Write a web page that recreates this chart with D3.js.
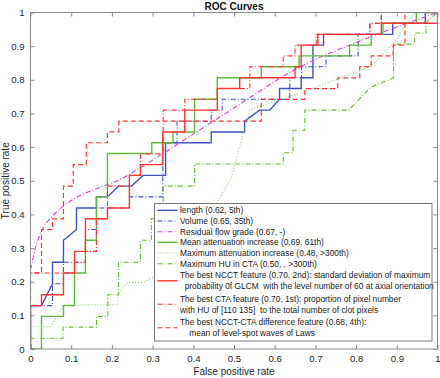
<!DOCTYPE html>
<html><head><meta charset="utf-8">
<script src="https://cdn.jsdelivr.net/npm/d3@7"></script>
<style>body{margin:0;background:#fff}svg{display:block;font-family:"Liberation Sans",Arial,sans-serif}</style>
</head><body><svg id="c" width="440" height="378"></svg>
<script>
// ---- data (FPR, TPR) ----
const lengthROC = [[0,0],[0,0.129],[0.027,0.129],[0.054,0.194],[0.054,0.258],[0.081,0.258],[0.081,0.323],[0.113,0.355],[0.113,0.419],[0.162,0.419],[0.162,0.452],[0.189,0.452],[0.216,0.484],[0.248,0.484],[0.277,0.516],[0.332,0.516],[0.332,0.613],[0.444,0.613],[0.444,0.645],[0.526,0.645],[0.526,0.677],[0.563,0.71],[0.588,0.71],[0.612,0.742],[0.612,0.774],[0.665,0.774],[0.665,0.806],[0.694,0.806],[0.694,0.903],[0.72,0.903],[0.72,0.935],[0.89,0.935],[0.89,0.968],[0.97,0.968],[0.97,1],[1,1]];
const volumeROC = [[0,0],[0,0.129],[0.054,0.129],[0.054,0.194],[0.081,0.194],[0.081,0.258],[0.135,0.258],[0.135,0.355],[0.162,0.355],[0.162,0.419],[0.243,0.419],[0.243,0.452],[0.325,0.452],[0.325,0.613],[0.36,0.613],[0.36,0.677],[0.444,0.677],[0.444,0.71],[0.471,0.71],[0.471,0.742],[0.637,0.742],[0.637,0.806],[0.666,0.806],[0.666,0.839],[0.726,0.839],[0.726,0.871],[0.805,0.871],[0.805,0.935],[0.834,0.935],[0.834,0.968],[0.862,0.968],[0.862,1],[1,1]];
const residualROC = [[0,0.235],[0.012,0.3],[0.027,0.35],[0.05,0.39],[0.24,0.517],[0.466,0.69],[0.665,0.84],[0.83,0.925],[1,1]];
const meanAttROC = [[0,0],[0.027,0],[0.027,0.097],[0.081,0.097],[0.081,0.129],[0.108,0.129],[0.108,0.226],[0.135,0.226],[0.135,0.323],[0.162,0.323],[0.162,0.452],[0.189,0.452],[0.189,0.581],[0.298,0.581],[0.298,0.613],[0.35,0.613],[0.35,0.645],[0.403,0.645],[0.403,0.742],[0.459,0.742],[0.459,0.806],[0.567,0.806],[0.567,0.839],[0.66,0.839],[0.66,0.871],[0.784,0.871],[0.784,0.903],[0.837,0.903],[0.837,0.935],[0.866,0.935],[0.866,0.968],[0.948,0.968],[0.948,1],[1,1]];
const maxAttROC = [[0,0],[0,0.066],[0.05,0.066],[0.08,0.131],[0.215,0.131],[0.215,0.166],[0.24,0.198],[0.276,0.198],[0.305,0.215],[0.35,0.26],[0.46,0.438],[0.493,0.508],[0.539,0.711],[0.66,0.76],[0.837,0.84],[0.895,0.914],[0.944,1],[1,1]];
const maxHUROC = [[0,0],[0,0.032],[0.08,0.032],[0.08,0.065],[0.162,0.065],[0.162,0.097],[0.19,0.097],[0.19,0.161],[0.216,0.161],[0.216,0.258],[0.27,0.258],[0.27,0.323],[0.297,0.323],[0.297,0.387],[0.326,0.387],[0.326,0.484],[0.403,0.484],[0.403,0.55],[0.621,0.55],[0.621,0.583],[0.645,0.583],[0.645,0.65],[0.674,0.65],[0.674,0.71],[0.782,0.71],[0.836,0.778],[0.892,0.806],[0.892,0.906],[0.944,0.906],[0.944,0.939],[0.972,0.939],[0.972,0.97],[1,1]];
const ncctROC = [[0,0],[0,0.129],[0.027,0.129],[0.027,0.161],[0.081,0.161],[0.081,0.226],[0.108,0.226],[0.108,0.29],[0.135,0.29],[0.135,0.387],[0.189,0.387],[0.189,0.419],[0.243,0.419],[0.243,0.516],[0.27,0.516],[0.27,0.548],[0.325,0.548],[0.325,0.645],[0.379,0.645],[0.379,0.71],[0.459,0.71],[0.459,0.774],[0.514,0.774],[0.514,0.806],[0.65,0.806],[0.65,0.839],[0.665,0.839],[0.665,0.903],[0.706,0.903],[0.706,0.935],[0.862,0.935],[0.862,0.968],[1,0.968],[1,1]];
const ctaROC = [[0,0],[0,0.226],[0.108,0.226],[0.108,0.258],[0.135,0.258],[0.135,0.29],[0.162,0.29],[0.162,0.387],[0.189,0.387],[0.189,0.484],[0.243,0.484],[0.243,0.516],[0.27,0.516],[0.27,0.58],[0.326,0.58],[0.326,0.71],[0.379,0.71],[0.379,0.742],[0.459,0.742],[0.459,0.774],[0.539,0.774],[0.539,0.839],[0.621,0.839],[0.621,0.871],[0.65,0.871],[0.65,0.903],[0.702,0.903],[0.702,0.935],[0.834,0.935],[0.834,0.968],[0.862,0.968],[0.862,1],[1,1]];
const diffROC = [[0,0],[0,0.226],[0.027,0.226],[0.027,0.355],[0.054,0.355],[0.054,0.387],[0.081,0.387],[0.081,0.484],[0.105,0.484],[0.105,0.548],[0.137,0.548],[0.137,0.613],[0.189,0.613],[0.189,0.645],[0.217,0.645],[0.217,0.677],[0.567,0.677],[0.567,0.742],[0.674,0.742],[0.674,0.774],[0.755,0.774],[0.755,0.806],[0.809,0.806],[0.809,0.839],[0.837,0.839],[0.837,0.871],[0.891,0.871],[0.891,0.903],[0.92,0.903],[0.92,1],[1,1]];

const legendLabels = [
  ["length (0.62, 5th)"],
  ["Volume (0.65, 35th)"],
  ["Residual flow grade (0.67, -)"],
  ["Mean attenuation increase (0.69, 61th)"],
  ["Maximum attenuation increase (0.48, >300th)"],
  ["Maximum HU in CTA (0.50, , >300th)"],
  ["The best NCCT feature (0.70, 2nd): standard deviation of maximum", "  probability 0f GLCM  with the level number of 60 at axial orientation"],
  ["The best CTA feature (0.70, 1st): proportion of pixel number", "with HU of [110 135]  to the total number of clot pixels"],
  ["The best NCCT-CTA difference feature (0.68, 4th):", "    mean of level-spot waves of Laws"]
];
const tickValues = [0,0.1,0.2,0.3,0.4,0.5,0.6,0.7,0.8,0.9,1];
const titleText = "ROC Curves";
const xLabelText = "False positive rate";
const yLabelText = "True positive rate";

// ---- styles ----
const BLUE="#3d52c4", RED="#ff3434", GREEN="#5cbc38", LGREEN="#86d066", MAG="#d244d2";
const series = [
  {d: lengthROC,  color: BLUE,  w: 1.4, dash: null},
  {d: volumeROC,  color: BLUE,  w: 1.1, dash: "5,2,1,2"},
  {d: residualROC,color: MAG,   w: 1.1, dash: "5,2,1,2", smooth: true},
  {d: meanAttROC, color: GREEN, w: 1.4, dash: null},
  {d: maxAttROC,  color: LGREEN,w: 1.1, dash: "1,2"},
  {d: maxHUROC,   color: "#66bb33", w: 1.1, dash: "5,2,1,2"},
  {d: ncctROC,    color: RED,   w: 1.4, dash: null},
  {d: ctaROC,     color: RED,   w: 1.1, dash: "5,2,1,2"},
  {d: diffROC,    color: RED,   w: 1.2, dash: "5,3"}
];

const svg = d3.select("#c");
const L=30.5, R=437.5, T=12.5, B=349;
const x = d3.scaleLinear([0,1],[L,R]);
const y = d3.scaleLinear([0,1],[B,T]);
const AX="#8a8a8a", TXT="#262626";

svg.append("clipPath").attr("id","clip").append("rect")
  .attr("x",L).attr("y",T).attr("width",R-L).attr("height",B-T);

const fmt = d => String(+d.toFixed(1));
function styleAxis(g){ g.select(".domain").remove(); g.selectAll(".tick line").attr("stroke",AX);
  g.selectAll(".tick text").attr("fill",TXT).style("font-size","9.6px"); }
svg.append("g").attr("transform",`translate(0,${B})`)
  .call(d3.axisBottom(x).tickValues(tickValues).tickFormat(fmt).tickSizeInner(-4).tickSizeOuter(0).tickPadding(6)).call(styleAxis);
svg.append("g").attr("transform",`translate(0,${T})`)
  .call(d3.axisTop(x).tickValues(tickValues).tickFormat("").tickSizeInner(-4).tickSizeOuter(0)).call(styleAxis);
svg.append("g").attr("transform",`translate(${L},0)`)
  .call(d3.axisLeft(y).tickValues(tickValues).tickFormat(fmt).tickSizeInner(-4).tickSizeOuter(0).tickPadding(6)).call(styleAxis);
svg.append("g").attr("transform",`translate(${R},0)`)
  .call(d3.axisRight(y).tickValues(tickValues).tickFormat("").tickSizeInner(-4).tickSizeOuter(0)).call(styleAxis);

const plot = svg.append("g").attr("clip-path","url(#clip)");
series.forEach(s=>{
  const line = d3.line().x(p=>x(p[0])).y(p=>y(p[1])).curve(s.smooth?d3.curveMonotoneX:d3.curveLinear);
  plot.append("path").attr("d",line(s.d)).attr("fill","none").attr("stroke",s.color)
    .attr("stroke-width",s.w).attr("stroke-dasharray",s.dash);
});

svg.append("rect").attr("x",L).attr("y",T).attr("width",R-L).attr("height",B-T)
  .attr("fill","none").attr("stroke",AX).attr("stroke-width",1);

svg.append("text").attr("x",(L+R)/2).attr("y",9.5).attr("text-anchor","middle")
  .style("font-size","10px").style("font-weight","bold").attr("fill","#111").text(titleText);
svg.append("text").attr("x",(L+R)/2).attr("y",375).attr("text-anchor","middle")
  .style("font-size","10px").attr("fill",TXT).text(xLabelText);
svg.append("text").attr("transform",`translate(9,${(T+B)/2}) rotate(-90)`).attr("text-anchor","middle")
  .style("font-size","10px").attr("fill",TXT).text(yLabelText);

// ---- legend ----
const lgX=154.5, lgY=203.5, lgW=277.5, lineH=10.67, twoH=23.5, pad=1.5;
const heights = legendLabels.map(l=>l.length>1?twoH:lineH);
const lgH = d3.sum(heights)+2*pad;
const lg = svg.append("g");
lg.append("rect").attr("x",lgX).attr("y",lgY).attr("width",lgW).attr("height",lgH)
  .attr("fill","#fff").attr("stroke","#7a7a7a").attr("stroke-width",1);
let cy = lgY+pad;
legendLabels.forEach((lab,i)=>{
  const h=heights[i], c=cy+h/2, s=series[i];
  lg.append("line").attr("x1",lgX+3).attr("x2",lgX+23).attr("y1",c).attr("y2",c)
    .attr("stroke",s.color).attr("stroke-width",s.w).attr("stroke-dasharray",s.dash);
  lab.forEach((t,j)=>{
    const ty = lab.length>1 ? c + (j===0?-5.3:5.3) : c;
    lg.append("text").attr("x",lgX+25.5).attr("y",ty).attr("dy","0.35em")
      .style("font-size","8.4px").style("white-space","pre").attr("xml:space","preserve")
      .attr("fill","#1a1a1a").text(t);
  });
  cy += h;
});
</script></body></html>
